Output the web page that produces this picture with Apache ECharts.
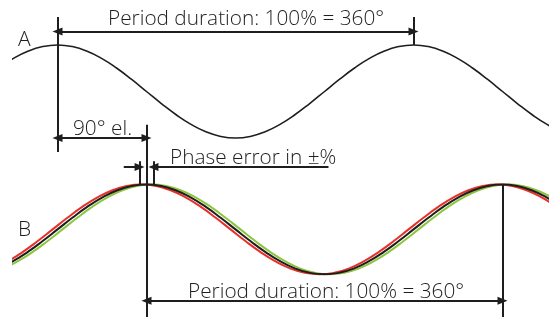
<!DOCTYPE html>
<html>
<head>
<meta charset="utf-8">
<script src="https://cdn.jsdelivr.net/npm/echarts@6/dist/echarts.min.js"></script>
<style>html,body{margin:0;padding:0;background:#fff}#c{width:549px;height:317px}</style>
</head>
<body>
<div id="c"></div>
<script>
// Phase angle (degrees) of each sample
const degrees = [30,45,60,75,90,105,120,135,150,165,180,195,210,225,240,255,270,285,300,315,330,345,360,375,390,405,420,435,450,465,480,495,510,525,540,555,570,585,600];
// Signal A (normalised amplitude)
const signalA = [0.5,0.707,0.866,0.966,1,0.966,0.866,0.707,0.5,0.259,0,-0.259,-0.5,-0.707,-0.866,-0.966,-1,-0.966,-0.866,-0.707,-0.5,-0.259,0,0.259,0.5,0.707,0.866,0.966,1,0.966,0.866,0.707,0.5,0.259,0,-0.259,-0.5,-0.707,-0.866];
// Signal B (normalised amplitude), 90° behind A
const signalB = [-0.866,-0.707,-0.5,-0.259,0,0.259,0.5,0.707,0.866,0.966,1,0.966,0.866,0.707,0.5,0.259,0,-0.259,-0.5,-0.707,-0.866,-0.966,-1,-0.966,-0.866,-0.707,-0.5,-0.259,0,0.259,0.5,0.707,0.866,0.966,1,0.966,0.866,0.707,0.5];
// Phase error band of B, degrees (lead / lag)
const phaseLead = -5;
const phaseLag = 5;
// Annotation labels
const labelPeriod = 'Period duration: 100% = 360°';
const label90 = '90° el.';
const labelPhaseErr = 'Phase error in ±%';
const labelA = 'A';
const labelB = 'B';
const labelHeading = 'Phase effect:';

const pts = (xs, ys, shift) => xs.map((x, i) => [x + shift, ys[i]]);

const FONT = '300 20.8px "Open Sans", "Liberation Sans", sans-serif';
const FONT_AB = '300 21px "Open Sans", "Liberation Sans", sans-serif';
const INK = '#1e1e1e';
const lineStyle = {color: INK, width: 2, type: 'solid'};

function seg(a, b, endSym, startSym) {
  return [
    {coord: a, symbol: startSym || 'none'},
    {coord: b, symbol: endSym || 'none'}
  ];
}

const chart = echarts.init(document.getElementById('c'), null, {renderer: 'canvas'});
chart.setOption({
  animation: false,
  backgroundColor: '#fff',
  grid: [
    // A: amplitude ±1 spans px 45..138; range extended for annotations
    {left: 13, width: 536, top: 3.15, height: 158.1},
    // B: amplitude ±1 spans px 186..278; range extended for annotations
    {left: 13, width: 536, top: 121.6, height: 200.1}
  ],
  xAxis: [
    {gridIndex: 0, type: 'value', min: 45, max: 587, show: false},
    {gridIndex: 1, type: 'value', min: 45, max: 587, show: false}
  ],
  yAxis: [
    {gridIndex: 0, type: 'value', min: -1.5, max: 1.9, show: false},
    {gridIndex: 1, type: 'value', min: -1.95, max: 2.4, show: false}
  ],
  series: [
    {type: 'line', xAxisIndex: 0, yAxisIndex: 0, data: pts(degrees, signalA, 0), smooth: true, symbol: 'none',
     lineStyle: {color: INK, width: 1.6}, clip: true, silent: true},
    {type: 'line', xAxisIndex: 1, yAxisIndex: 1, data: pts(degrees, signalB, phaseLag), smooth: true, symbol: 'none',
     lineStyle: {color: '#8cc63f', width: 2}, clip: true, silent: true},
    {type: 'line', xAxisIndex: 1, yAxisIndex: 1, data: pts(degrees, signalB, phaseLead), smooth: true, symbol: 'none',
     lineStyle: {color: '#e8302a', width: 2}, clip: true, silent: true},
    {type: 'line', xAxisIndex: 1, yAxisIndex: 1, data: pts(degrees, signalB, 0), smooth: true, symbol: 'none',
     lineStyle: {color: INK, width: 2}, clip: true, silent: true},
    // annotations on A
    {type: 'line', xAxisIndex: 0, yAxisIndex: 0, data: [], clip: false, silent: true,
     markLine: {silent: true, animation: false, symbolSize: [8, 10], label: {show: false}, lineStyle: lineStyle,
       data: [
         seg([90, 1.60], [90, -1.30]),
         seg([450, 1.60], [450, 1.0]),
         seg([90, 1.29], [450, 1.29], 'triangle', 'triangle'),
         seg([90, -1.0], [180, -1.0], 'triangle', 'triangle')
       ]}},
    // annotations on B
    {type: 'line', xAxisIndex: 1, yAxisIndex: 1, data: [], clip: false, silent: true,
     markLine: {silent: true, animation: false, symbolSize: [8, 10], label: {show: false}, lineStyle: lineStyle,
       data: [
         seg([180, 2.33], [180, -1.95]),
         seg([540, 1.0], [540, -1.95]),
         seg([173, 1.52], [173, 1.0]),
         seg([187, 1.52], [187, 1.0]),
         seg([157, 1.39], [173, 1.39], 'triangle'),
         seg([364, 1.39], [187, 1.39], 'triangle'),
         seg([180, -1.587], [540, -1.587], 'triangle', 'triangle')
       ]}}
  ],
  graphic: [
    {type: 'text', silent: true, style: {text: labelHeading, x: 97, y: -6, align: 'right', verticalAlign: 'middle', font: FONT, fill: INK}},
    {type: 'text', silent: true, style: {text: labelPeriod, x: 108, y: 19.5, align: 'left', verticalAlign: 'middle', font: FONT, fill: INK}},
    {type: 'text', silent: true, style: {text: labelA, x: 18, y: 40.5, align: 'left', verticalAlign: 'middle', font: FONT_AB, fill: INK}},
    {type: 'text', silent: true, style: {text: label90, x: 73, y: 129.5, align: 'left', verticalAlign: 'middle', font: FONT, fill: INK}},
    {type: 'text', silent: true, style: {text: labelPhaseErr, x: 170, y: 158.5, align: 'left', verticalAlign: 'middle', font: FONT, fill: INK}},
    {type: 'text', silent: true, style: {text: labelB, x: 18, y: 230.5, align: 'left', verticalAlign: 'middle', font: FONT_AB, fill: INK}},
    {type: 'text', silent: true, style: {text: labelPeriod, x: 188, y: 292.5, align: 'left', verticalAlign: 'middle', font: FONT, fill: INK}}
  ]
});
</script>
</body>
</html>
